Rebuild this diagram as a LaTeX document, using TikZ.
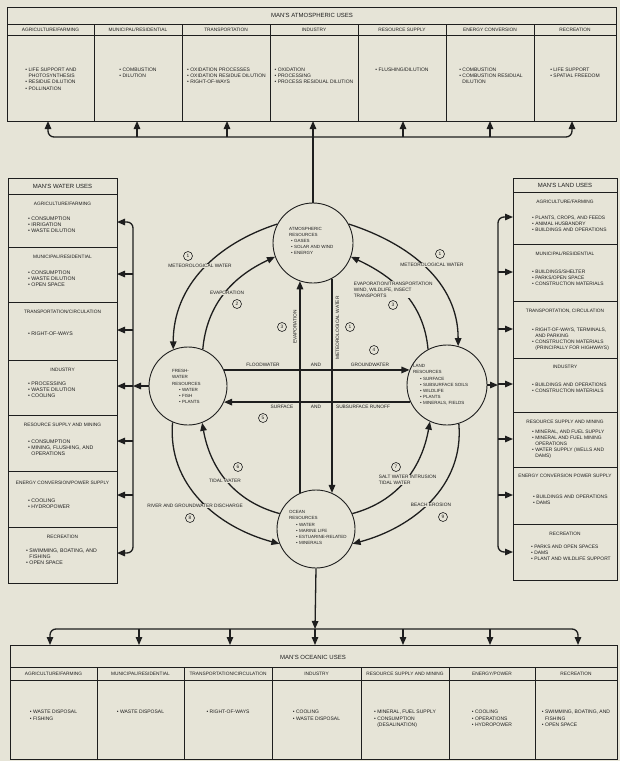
\documentclass[tikz,border=0pt]{standalone}
\usepackage{fontspec}
\setmainfont{Liberation Sans}
\usetikzlibrary{arrows.meta,calc}
\definecolor{bg}{RGB}{230,228,215}
\definecolor{ink}{RGB}{30,30,30}
\newcommand\myb{\textbullet\ }
\newcommand\myi{\phantom{\textbullet\ }}
\begin{document}
\begin{tikzpicture}[x=1pt,y=1pt,
  every node/.style={text=ink},
  tbl/.style={draw=ink, line width=0.8pt},
  ttl/.style={font=\fontsize{6}{7}\selectfont, inner sep=0},
  hd/.style={font=\fontsize{4.8}{6}\selectfont, inner sep=0},
  bl/.style={font=\fontsize{5}{6.3}\selectfont, align=left, inner sep=0, anchor=north},
  blw/.style={font=\fontsize{5.2}{6.3}\selectfont, align=left, inner sep=0, anchor=north west},
  res/.style={circle, draw=ink, line width=0.9pt, minimum size=#1, inner sep=0},
  rtxt/.style={font=\fontsize{4.5}{6.1}\selectfont, align=left, inner sep=0, anchor=north west},
  conn/.style={draw=ink, line width=1.3pt},
  tip/.style={conn, -{Triangle[length=8pt,width=6.5pt]}},
  tips/.style={conn, {Triangle[length=8pt,width=6.5pt]}-{Triangle[length=8pt,width=6.5pt]}},
  lab/.style={font=\fontsize{4.8}{6}\selectfont, fill=bg, inner sep=0.6pt, align=left},
  num/.style={circle, draw=ink, line width=0.6pt, inner sep=0, minimum size=9pt, font=\fontsize{4.8}{5}\selectfont}
]
\fill[bg] (0,0) rectangle (620,-761);
\useasboundingbox (0,0) rectangle (620,-761);

% ---------------- top table ----------------
\draw[tbl] (7,-7) rectangle (616,-121);
\draw[tbl] (7,-24) -- (616,-24);
\draw[tbl] (7,-35) -- (616,-35);
\foreach \x in {94,182,270,358,446,534} \draw[tbl] (\x,-24) -- (\x,-121);
\node[ttl] (atmU) at (312,-15.5) {MAN'S ATMOSPHERIC USES};
\node[hd] (ah1) at (50.5,-29.5) {AGRICULTURE/FARMING};
\node[hd] (ah2) at (138,-29.5) {MUNICIPAL/RESIDENTIAL};
\node[hd] (ah3) at (226,-29.5) {TRANSPORTATION};
\node[hd] (ah4) at (314,-29.5) {INDUSTRY};
\node[hd] (ah5) at (402,-29.5) {RESOURCE SUPPLY};
\node[hd] (ah6) at (490,-29.5) {ENERGY CONVERSION};
\node[hd] (ah7) at (575,-29.5) {RECREATION};
\node[bl] (ab1) at (51,-67.5) {\myb LIFE SUPPORT AND\\\myi PHOTOSYNTHESIS\\\myb RESIDUE DILUTION\\\myb POLLINATION};
\node[bl] (ab2) at (138,-67.5) {\myb COMBUSTION\\\myb DILUTION};
\node[bl] (ab3) at (226.5,-67.5) {\myb OXIDATION PROCESSES\\\myb OXIDATION RESIDUE DILUTION\\\myb RIGHT-OF-WAYS};
\node[bl] (ab4) at (314,-67.5) {\myb OXIDATION\\\myb PROCESSING\\\myb PROCESS RESIDUAL DILUTION};
\node[bl] (ab5) at (402,-67.5) {\myb FLUSHING/DILUTION};
\node[bl] (ab6) at (491,-67.5) {\myb COMBUSTION\\\myb COMBUSTION RESIDUAL\\\myi DILUTION};
\node[bl] (ab7) at (575,-67.5) {\myb LIFE SUPPORT\\\myb SPATIAL FREEDOM};

% ---------------- left table ----------------
\draw[tbl] (8,-178) rectangle (117,-583);
\foreach \y in {194,247,302,360,415,471,527} \draw[tbl] (8,-\y) -- (117,-\y);
\node[ttl] (wU) at (62.5,-186) {MAN'S WATER USES};
\node[hd] (wh1) at (62.5,-204) {AGRICULTURE/FARMING};
\node[hd] (wh2) at (62.5,-257) {MUNICIPAL/RESIDENTIAL};
\node[hd] (wh3) at (62.5,-312) {TRANSPORTATION/CIRCULATION};
\node[hd] (wh4) at (62.5,-370) {INDUSTRY};
\node[hd] (wh5) at (62.5,-425) {RESOURCE SUPPLY AND MINING};
\node[hd] (wh6) at (62.5,-483) {ENERGY CONVERSION/POWER SUPPLY};
\node[hd] (wh7) at (62.5,-537) {RECREATION};
\node[blw] (wb1) at (28,-216.5) {\myb CONSUMPTION\\\myb IRRIGATION\\\myb WASTE DILUTION};
\node[blw] (wb2) at (28,-270.5) {\myb CONSUMPTION\\\myb WASTE DILUTION\\\myb OPEN SPACE};
\node[blw] (wb3) at (28,-331.5) {\myb RIGHT-OF-WAYS};
\node[blw] (wb4) at (28,-381.5) {\myb PROCESSING\\\myb WASTE DILUTION\\\myb COOLING};
\node[blw] (wb5) at (28,-439.5) {\myb CONSUMPTION\\\myb MINING, FLUSHING, AND\\\myi OPERATIONS};
\node[blw] (wb6) at (28,-498.5) {\myb COOLING\\\myb HYDROPOWER};
\node[blw] (wb7) at (26,-548.5) {\myb SWIMMING, BOATING, AND\\\myi FISHING\\\myb OPEN SPACE};

% ---------------- right table ----------------
\draw[tbl] (513,-178) rectangle (617,-580);
\foreach \y in {192,244,301,358,412,467,524} \draw[tbl] (513,-\y) -- (617,-\y);
\node[ttl] (lU) at (565,-185) {MAN'S LAND USES};
\node[hd] (lh1) at (565,-202) {AGRICULTURE/FARMING};
\node[hd] (lh2) at (565,-254) {MUNICIPAL/RESIDENTIAL};
\node[hd] (lh3) at (565,-311) {TRANSPORTATION, CIRCULATION};
\node[hd] (lh4) at (565,-367) {INDUSTRY};
\node[hd] (lh5) at (565,-422) {RESOURCE SUPPLY AND MINING};
\node[hd] (lh6) at (565,-476) {ENERGY CONVERSION POWER SUPPLY};
\node[hd] (lh7) at (565,-534) {RECREATION};
\node[blw, font=\fontsize{4.9}{6.2}\selectfont] (lb1) at (532,-215.5) {\myb PLANTS, CROPS, AND FEEDS\\\myb ANIMAL HUSBANDRY\\\myb BUILDINGS AND OPERATIONS};
\node[blw, font=\fontsize{4.9}{6.2}\selectfont] (lb2) at (532,-269.5) {\myb BUILDINGS/SHELTER\\\myb PARKS/OPEN SPACE\\\myb CONSTRUCTION MATERIALS};
\node[blw, font=\fontsize{4.9}{6.2}\selectfont] (lb3) at (532,-327.5) {\myb RIGHT-OF-WAYS, TERMINALS,\\\myi AND PARKING\\\myb CONSTRUCTION MATERIALS\\\myi (PRINCIPALLY FOR HIGHWAYS)};
\node[blw, font=\fontsize{4.9}{6.2}\selectfont] (lb4) at (532,-382.5) {\myb BUILDINGS AND OPERATIONS\\\myb CONSTRUCTION MATERIALS};
\node[blw, font=\fontsize{4.9}{6.2}\selectfont] (lb5) at (532,-429.5) {\myb MINERAL, AND FUEL SUPPLY\\\myb MINERAL AND FUEL MINING\\\myi OPERATIONS\\\myb WATER SUPPLY (WELLS AND\\\myi DAMS)};
\node[blw, font=\fontsize{4.9}{6.2}\selectfont] (lb6) at (533,-494.5) {\myb BUILDINGS AND OPERATIONS\\\myb DAMS};
\node[blw, font=\fontsize{4.9}{6.2}\selectfont] (lb7) at (531,-544.5) {\myb PARKS AND OPEN SPACES\\\myb DAMS\\\myb PLANT AND WILDLIFE SUPPORT};

% ---------------- bottom table ----------------
\draw[tbl] (10,-645) rectangle (617,-759);
\draw[tbl] (10,-667) -- (617,-667);
\draw[tbl] (10,-680) -- (617,-680);
\foreach \x in {97,184,272,361,449,535} \draw[tbl] (\x,-667) -- (\x,-759);
\node[ttl] (oU) at (313,-657) {MAN'S OCEANIC USES};
\node[hd] (oh1) at (53.5,-674) {AGRICULTURE/FARMING};
\node[hd] (oh2) at (140.5,-674) {MUNICIPAL/RESIDENTIAL};
\node[hd] (oh3) at (228,-674) {TRANSPORTATION/CIRCULATION};
\node[hd] (oh4) at (316.5,-674) {INDUSTRY};
\node[hd] (oh5) at (405,-674) {RESOURCE SUPPLY AND MINING};
\node[hd] (oh6) at (492,-674) {ENERGY/POWER};
\node[hd] (oh7) at (576,-674) {RECREATION};
\node[bl] (ob1) at (53.5,-710) {\myb WASTE DISPOSAL\\\myb FISHING};
\node[bl] (ob2) at (140.5,-710) {\myb WASTE DISPOSAL};
\node[bl] (ob3) at (228,-710) {\myb RIGHT-OF-WAYS};
\node[bl] (ob4) at (316.5,-710) {\myb COOLING\\\myb WASTE DISPOSAL};
\node[bl] (ob5) at (405,-710) {\myb MINERAL, FUEL SUPPLY\\\myb CONSUMPTION\\\myi (DESALINATION)};
\node[bl] (ob6) at (492,-710) {\myb COOLING\\\myb OPERATIONS\\\myb HYDROPOWER};
\node[bl] (ob7) at (576,-710) {\myb SWIMMING, BOATING, AND\\\myi FISHING\\\myb OPEN SPACE};

% ---------------- resource circles ----------------
\node[res=80pt] (atm) at (313,-243) {};
\node[res=78pt] (fw) at (188,-386) {};
\node[res=80pt] (land) at (447,-385) {};
\node[res=78pt] (oc) at (316,-529) {};
\node[rtxt] (atmT) at (289,-227) {ATMOSPHERIC\\RESOURCES\\\hspace{2pt}\myb GASES\\\hspace{2pt}\myb SOLAR AND WIND\\\hspace{2pt}\myb ENERGY};
\node[rtxt] (fwT) at (172,-369.5) {FRESH-\\WATER\\RESOURCES\\\hspace{7pt}\myb WATER\\\hspace{7pt}\myb FISH\\\hspace{7pt}\myb PLANTS};
\node[rtxt] (landT) at (413,-364.5) {LAND\\RESOURCES\\\hspace{7pt}\myb SURFACE\\\hspace{7pt}\myb SUBSURFACE SOILS\\\hspace{7pt}\myb WILDLIFE\\\hspace{7pt}\myb PLANTS\\\hspace{7pt}\myb MINERALS, FIELDS};
\node[rtxt] (ocT) at (289,-510.5) {OCEAN\\RESOURCES\\\hspace{7pt}\myb WATER\\\hspace{7pt}\myb MARINE LIFE\\\hspace{7pt}\myb ESTUARINE-RELATED\\\hspace{7pt}\myb MINERALS};

% ---------------- top bus ----------------
\coordinate (tA1) at (48,-121);
\coordinate (tA2) at (137,-121);
\coordinate (tA3) at (227,-121);
\coordinate (tA4) at (313,-121);
\coordinate (tA5) at (403,-121);
\coordinate (tA6) at (490,-121);
\coordinate (tA7) at (572,-121);
\draw[tips, rounded corners=6pt] (tA1) -- (48,-137) -- (572,-137) -- (tA7);
\foreach \i/\x in {2/137,3/227,5/403,6/490} \draw[tip] (\x,-137) -- (tA\i);
\draw[tip] (atm.north) -- (tA4);

% ---------------- left bus ----------------
\coordinate (wA1) at (117,-222);
\coordinate (wA2) at (117,-274);
\coordinate (wA3) at (117,-330);
\coordinate (wA4) at (117,-386);
\coordinate (wA5) at (117,-441);
\coordinate (wA6) at (117,-495);
\coordinate (wA7) at (117,-553);
\draw[tips, rounded corners=6pt] (wA1) -- (133,-222) -- (133,-553) -- (wA7);
\foreach \i/\y in {2/274,3/330,4/386,5/441,6/495} \draw[tip] (133,-\y) -- (wA\i);
\draw[tip] (fw.west) -- (133,-386);

% ---------------- right bus ----------------
\coordinate (lA1) at (513,-217);
\coordinate (lA2) at (513,-272);
\coordinate (lA3) at (513,-329);
\coordinate (lA4) at (513,-384);
\coordinate (lA5) at (513,-439);
\coordinate (lA6) at (513,-495);
\coordinate (lA7) at (513,-552);
\draw[tips, rounded corners=6pt] (lA1) -- (498,-217) -- (498,-552) -- (lA7);
\foreach \i/\y in {2/272,3/329,4/384,5/439,6/495} \draw[tip] (498,-\y) -- (lA\i);
\draw[tip] (land.east) -- (498,-385);

% ---------------- bottom bus ----------------
\coordinate (oA1) at (50,-645);
\coordinate (oA2) at (139,-645);
\coordinate (oA3) at (230,-645);
\coordinate (oA4) at (315,-645);
\coordinate (oA5) at (403,-645);
\coordinate (oA6) at (490,-645);
\coordinate (oA7) at (578,-645);
\coordinate (obus) at (315,-629);
\draw[tips, rounded corners=6pt] (oA1) -- (50,-629) -- (578,-629) -- (oA7);
\foreach \i/\x in {2/139,3/230,4/315,5/403,6/490} \draw[tip] (\x,-629) -- (oA\i);
\draw[tip] (oc.south) -- (obus);

% ---------------- exchange connectors ----------------
\draw[tip] (atm.152) to[out=198, in=90] (fw.112);
\draw[tip] (fw.68) to[out=85, in=205] (atm.200);
\draw[tip] (atm.28) to[out=-18, in=90] (land.74);
\draw[tip] (land.118) to[out=95, in=-25] (atm.-20);
\draw[tip] (oc.114) -- (oc.114 |- atm.251);
\draw[tip] (atm.-62) -- (atm.-62 |- oc.66);
\draw[tip] (fw.24) -- (fw.24 -| land.158);
\draw[tip] (land.205) -- (land.205 -| fw.-24);
\draw[tip] (oc.157) to[out=165, in=-80] (fw.-69);
\draw[tip] (fw.247) to[out=-95, in=165] (oc.202);
\draw[tip] (oc.23) to[out=15, in=-100] (land.245);
\draw[tip] (land.-73) to[out=-85, in=15] (oc.-22);

% ---------------- labels ----------------
\node[num] (n1a) at (188,-256) {1};
\node[lab] (l1a) at (200,-266) {METEOROLOGICAL WATER};
\node[lab] (l2) at (227,-293) {EVAPORATION};
\node[num] (n2) at (237,-304) {2};
\node[lab, rotate=90] (l3v) at (295,-327) {EVAPORATION};
\node[num] (n3v) at (282,-327) {3};
\node[lab, rotate=90] (l1v) at (337.5,-328) {METEOROLOGICAL WATER};
\node[num] (n1v) at (350,-327) {1};
\node[num] (n1b) at (440,-254) {1};
\node[lab] (l1b) at (432,-265) {METEOROLOGICAL WATER};
\node[lab, anchor=north west] (l3) at (353,-281) {EVAPORATION/TRANSPORTATION\\WIND, WILDLIFE, INSECT\\TRANSPORTS};
\node[num] (n3) at (393,-305) {3};
\node[num] (n4) at (374,-350) {4};
\node[lab, anchor=south] (lf1) at (263,-367.5) {FLOODWATER};
\node[lab, anchor=south] (lf2) at (316,-367.5) {AND};
\node[lab, anchor=south] (lf3) at (370,-367.5) {GROUNDWATER};
\node[lab, anchor=north] (ls1) at (282,-404.5) {SURFACE};
\node[lab, anchor=north] (ls2) at (316,-404.5) {AND};
\node[lab, anchor=north] (ls3) at (363,-404.5) {SUBSURFACE RUNOFF};
\node[num] (n5) at (263,-418) {5};
\node[num] (n6) at (238,-467) {6};
\node[lab] (l6) at (225,-481) {TIDAL WATER};
\node[lab] (l8) at (195,-506) {RIVER AND GROUNDWATER DISCHARGE};
\node[num] (n8) at (190,-518) {8};
\node[num] (n7) at (396,-467) {7};
\node[lab, anchor=north west] (l7) at (378,-474.5) {SALT WATER INTRUSION\\TIDAL WATER};
\node[lab] (l9) at (431,-505) {BEACH EROSION};
\node[num] (n9) at (443,-517) {9};
\end{tikzpicture}
\end{document}
